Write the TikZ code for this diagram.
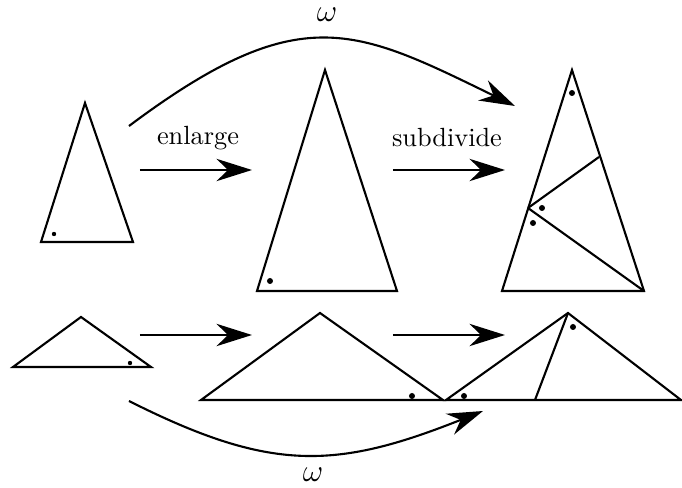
\documentclass[tikz,border=0pt]{standalone}
\usetikzlibrary{arrows.meta}
\begin{document}
\begin{tikzpicture}[x=0.38pt, y=-0.38pt, line width=0.8pt,
    map/.style={-{Stealth[length=13.5pt, width=8.5pt]}},
    dot/.style={fill=black}]
    \useasboundingbox (0,0) rectangle (682,488);

    % 1. Felso sor: hegyesszogu haromszogek
    \draw (41,242) -- (85,103) -- (133,242) -- cycle;
    \draw (257,291) -- (325,70) -- (397,291) -- cycle;
    \draw (502,291) -- (572,70) -- (644,291) -- cycle;
    \draw (528,208) -- (599,157);
    \draw (528,208) -- (644,291);

    % 2. Also sor: tompaszogu haromszogek
    \draw (13,367) -- (81,317) -- (151,367) -- cycle;
    \draw (201,400) -- (320,313) -- (443,400) -- cycle;
    \draw (446,400) -- (568,313) -- (681,400) -- cycle;
    \draw (568,313) -- (535,400);

    % 3. Pottyok a szogekben
    \fill[dot] (54,234) circle (2.2);
    \fill[dot] (270,281) circle (3);
    \fill[dot] (572,93) circle (3);
    \fill[dot] (542,208) circle (3);
    \fill[dot] (533,223) circle (3);
    \fill[dot] (130,363) circle (2.2);
    \fill[dot] (412,396) circle (3);
    \fill[dot] (573,327) circle (3);
    \fill[dot] (464,396) circle (3);

    % 4. Vizszintes nyilak
    \foreach \y in {170,335} {
        \coordinate (e-\y-a) at (140,\y);
        \coordinate (e-\y-b) at (252,\y);
        \coordinate (s-\y-a) at (393,\y);
        \coordinate (s-\y-b) at (505,\y);
        \draw[map] (e-\y-a) -- (e-\y-b);
        \draw[map] (s-\y-a) -- (s-\y-b);
    }
    \node (enlarge) at (198,138) {enlarge};
    \node (subdivide) at (447,138) {subdivide};

    % 5. Ivelt omega nyilak
    \coordinate (top-a) at (129,126);
    \coordinate (top-b) at (515,106);
    \coordinate (bot-a) at (129,401);
    \coordinate (bot-b) at (483,411);
    \draw[map] (top-a) .. controls (300,-2) and (355,28) .. (top-b);
    \draw[map] (bot-a) .. controls (270,472) and (335,470) .. (bot-b);
    \node[font=\large] (omega-top) at (327,15) {$\omega$};
    \node[font=\large] (omega-bot) at (313,475) {$\omega$};
\end{tikzpicture}
\end{document}
